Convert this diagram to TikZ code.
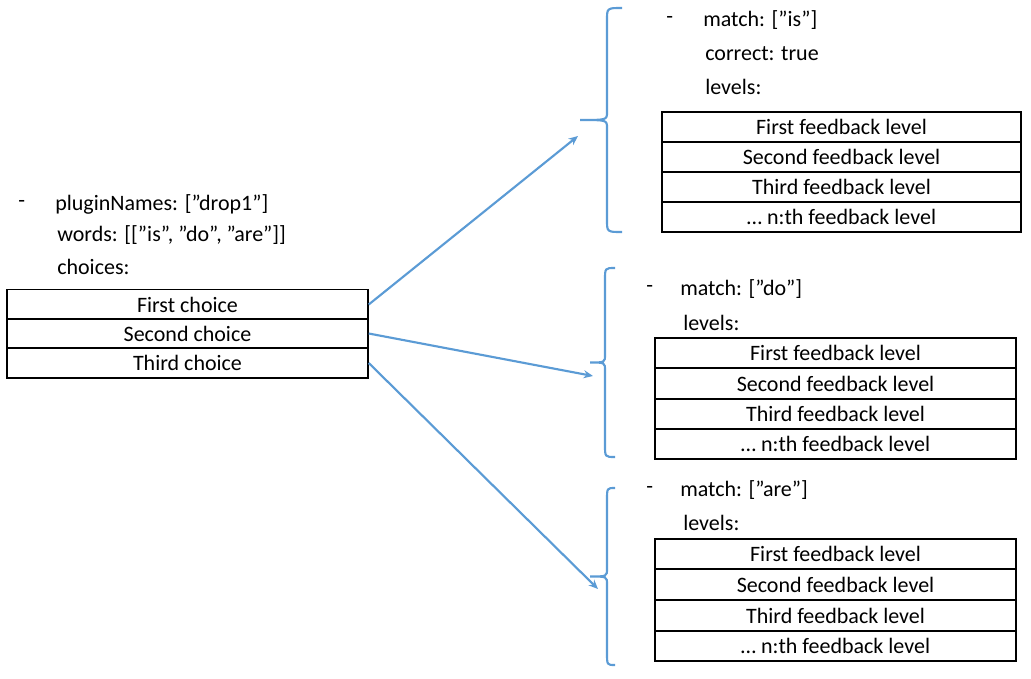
\documentclass[tikz,border=0pt]{standalone}
\usetikzlibrary{arrows.meta}
\usepackage{fontspec}
\setmainfont{Carlito}
\definecolor{bl}{HTML}{5B9BD5}
\begin{document}
\begin{tikzpicture}[x=0.75pt,y=-0.75pt,
 txt/.style={anchor=west,inner sep=0,font=\fontsize{16.5}{18}\selectfont},
 cell/.style={draw=black,line width=1.1pt,minimum height=22.5pt,inner sep=0,font=\fontsize{16.5}{18}\selectfont},
 con/.style={draw=bl,line width=1.6pt,-{Stealth[length=7pt,width=6pt]}},
 brace/.style={draw=bl,line width=1.6pt}]
\useasboundingbox (0,0) rectangle (1031,678);
% left
\node[txt] (d0) at (18,204) {-};
\node[txt] (l1) at (55,204) {pluginNames: [”drop1”]};
\node[txt] (l2) at (57,235) {words: [[”is”, ”do”, ”are”]]};
\node[txt] (l3) at (57,267) {choices:};
\node[cell,minimum width=270.75pt] (c1) at (187.5,304.5) {First choice};
\node[cell,minimum width=270.75pt] (c2) at (187.5,333.5) {Second choice};
\node[cell,minimum width=270.75pt] (c3) at (187.5,363) {Third choice};
% braces
\newcommand\mybrace[5]{% xl xv xr top bottom
 \pgfmathsetmacro\mid{(#4+#5)/2}
 \draw[brace] (#3,#4) .. controls (#2,#4) .. (#2,#4+12) -- (#2,\mid-8) .. controls (#2,\mid) .. (#1,\mid)
   .. controls (#2,\mid) .. (#2,\mid+8) -- (#2,#5-12) .. controls (#2,#5) .. (#3,#5);}
\mybrace{580}{607}{622}{8}{232}
\mybrace{590}{605}{615}{268}{457}
\mybrace{590}{607}{615}{488}{665}
\coordinate (t1) at (578,136);
\coordinate (t2) at (593,376);
\coordinate (t3) at (598,589);
\draw[con] (c1.east) -- (t1);
\draw[con] (c2.east) -- (t2);
\draw[con] (c3.east) -- (t3);
% top group
\node[txt] (a0) at (666,20) {-};
\node[txt] (a1) at (703,20) {match: [”is”]};
\node[txt] (a2) at (705,54) {correct: true};
\node[txt] (a3) at (705,87) {levels:};
\foreach \y/\t [count=\i] in {127/First feedback level,157/Second feedback level,187/Third feedback level,217/… n:th feedback level}
 \node[cell,minimum width=269.25pt] (ta\i) at (841.5,\y) {\t};
% middle group
\node[txt] (b0) at (646,289) {-};
\node[txt] (b1) at (680,289) {match: [”do”]};
\node[txt] (b2) at (683,323) {levels:};
\foreach \y/\t [count=\i] in {353/First feedback level,383.5/Second feedback level,414/Third feedback level,444/… n:th feedback level}
 \node[cell,minimum width=270.75pt] (tb\i) at (835.5,\y) {\t};
% bottom group
\node[txt] (e0) at (646,490) {-};
\node[txt] (e1) at (680,490) {match: [”are”]};
\node[txt] (e2) at (683,523) {levels:};
\foreach \y/\t [count=\i] in {554/First feedback level,584.5/Second feedback level,615.5/Third feedback level,646/… n:th feedback level}
 \node[cell,minimum width=270.75pt] (tc\i) at (835.5,\y) {\t};
\end{tikzpicture}
\end{document}
